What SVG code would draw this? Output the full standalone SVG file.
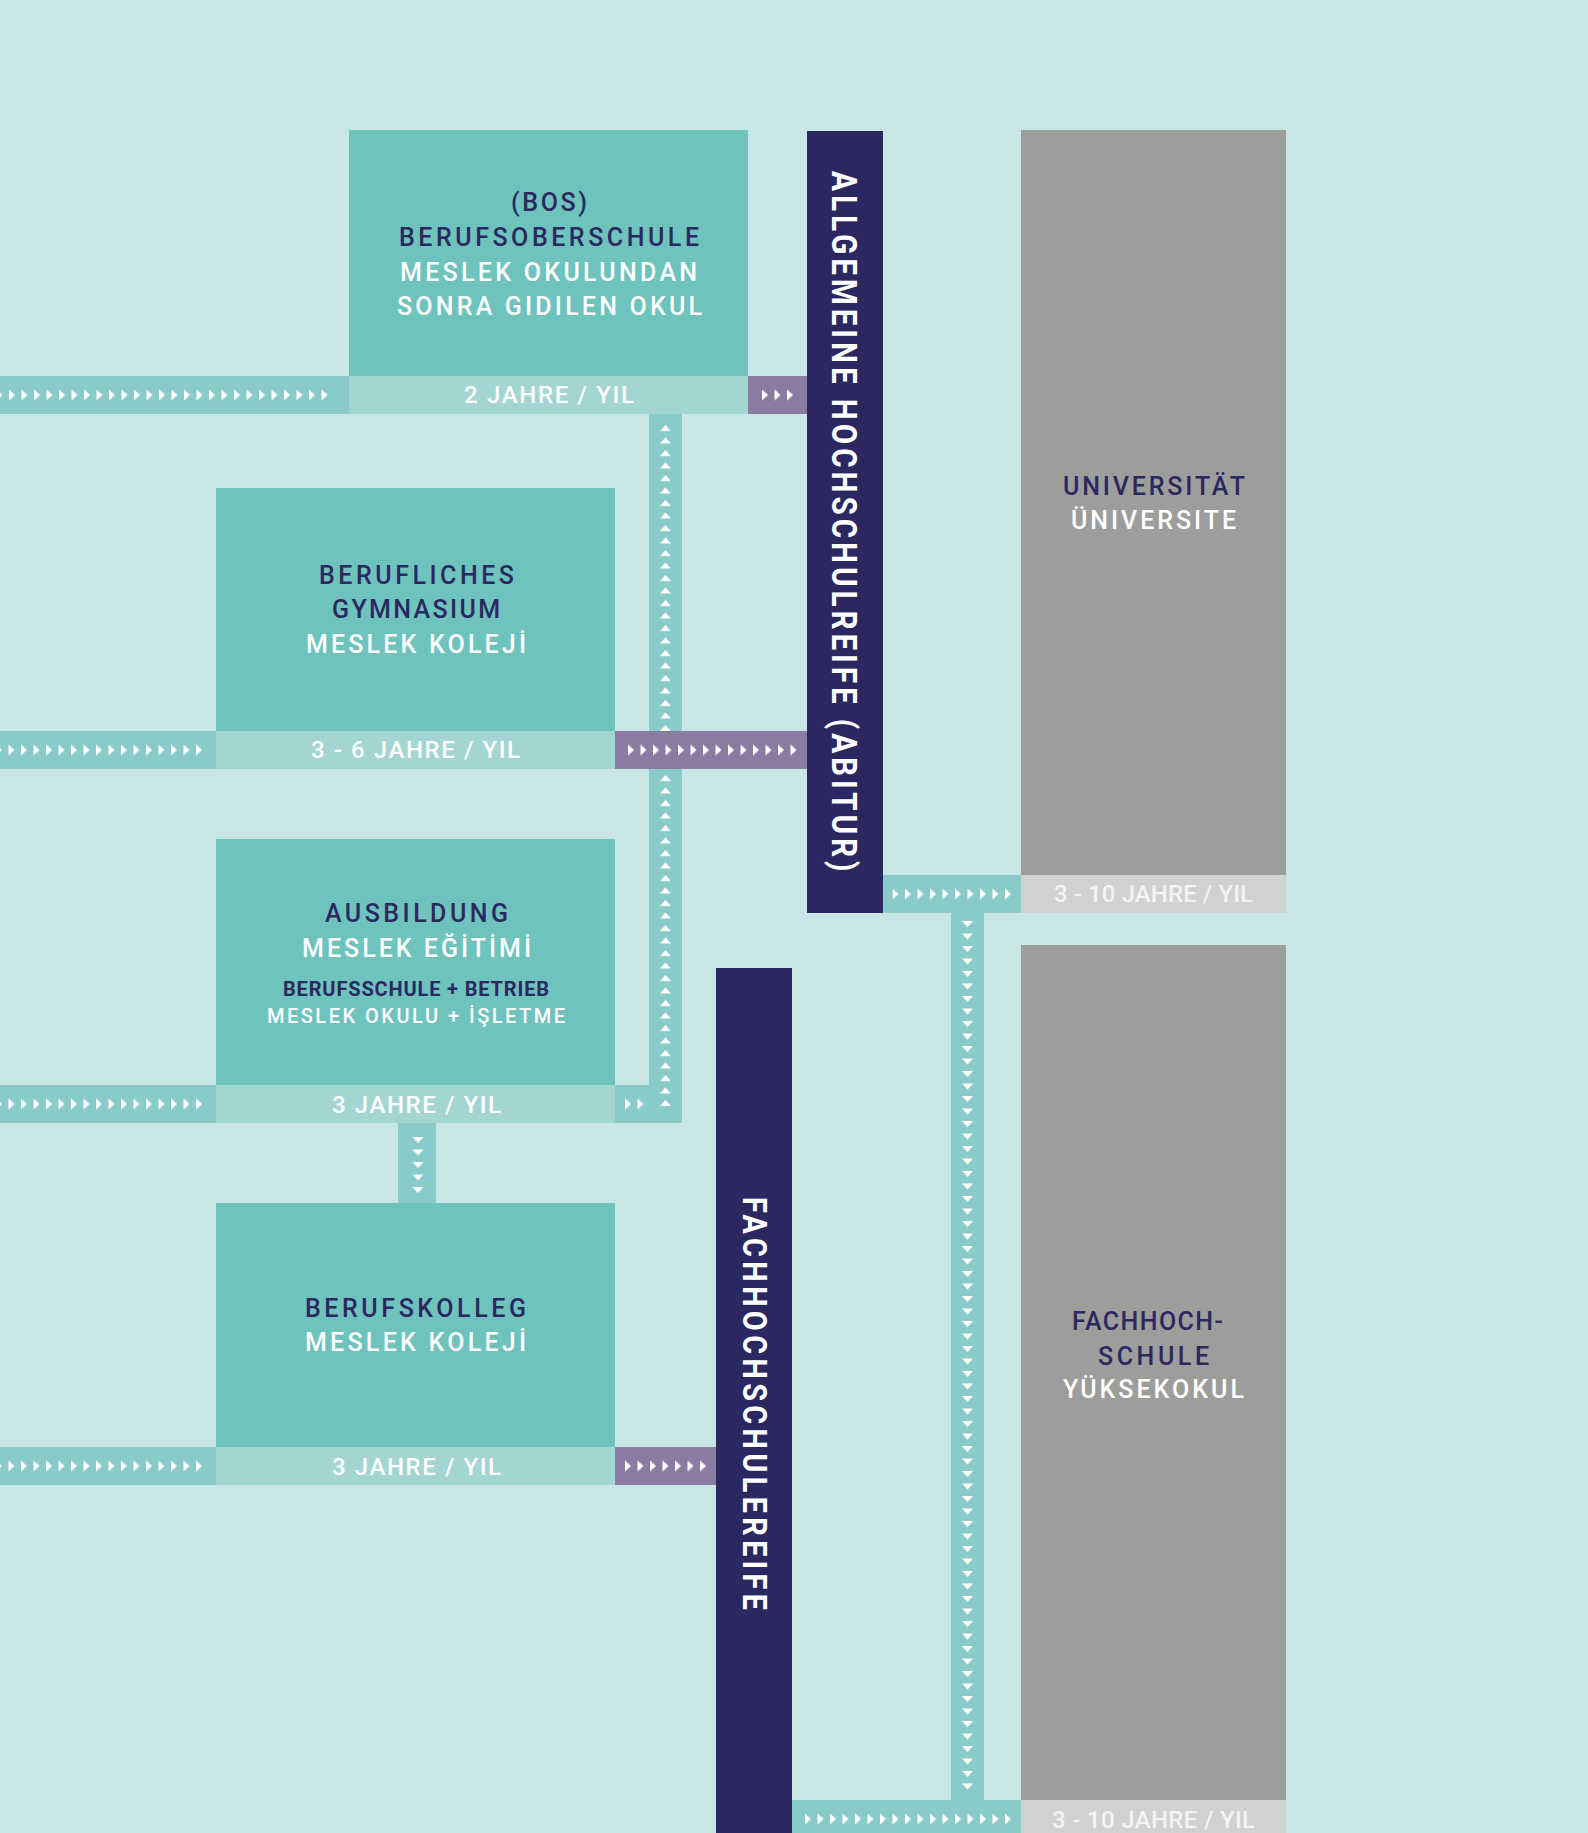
<svg xmlns="http://www.w3.org/2000/svg" width="1588" height="1833" viewBox="0 0 1588 1833">
<style>
.bg{fill:#c8e6e5}
.box{fill:#6ec3bd}
.lab{fill:#a3d6d2}
.con{fill:#89cbc9}
.pur{fill:#8a7ba1}
.bar{fill:#2b2861}
.gry{fill:#9d9d9b}
.lgy{fill:#d1d1d1}
.t{font-family:Roboto,"Liberation Sans",sans-serif;font-size:25px;font-weight:500}
.n{fill:#2b2861}
.w{fill:#ffffff}
.s{font-family:Roboto,"Liberation Sans",sans-serif;font-size:24px;font-weight:500;fill:#ffffff}
.g{fill:#f4f4f4}
.sm{font-size:20px}
.b{font-weight:700}
.v{font-family:Roboto,"Liberation Sans",sans-serif;font-weight:700;fill:#ffffff}
</style>
<defs>
<pattern id="arrR" patternUnits="userSpaceOnUse" width="12.5" height="11"><polygon points="0,0 6,5.5 0,11" fill="#ffffff"/></pattern>
<pattern id="arrU" patternUnits="userSpaceOnUse" width="11" height="12.5"><polygon points="0,6 11,6 5.5,0" fill="#ffffff"/></pattern>
<pattern id="arrD" patternUnits="userSpaceOnUse" width="11" height="12.5"><polygon points="0,0 11,0 5.5,6" fill="#ffffff"/></pattern>
</defs>
<rect class="bg" x="0" y="0" width="1588" height="1833"/>

<g id="connectors">
<rect class="con" x="0" y="376" width="349" height="38"/>
<rect class="con" x="649" y="414" width="33" height="709"/>
<rect class="con" x="0" y="731" width="216" height="38"/>
<rect class="con" x="0" y="1085" width="216" height="38"/>
<rect class="con" x="615" y="1085" width="67" height="38"/>
<rect class="con" x="398" y="1123" width="38" height="80"/>
<rect class="con" x="0" y="1447" width="216" height="38"/>
<rect class="con" x="883" y="875" width="138" height="38"/>
<rect class="con" x="951" y="913" width="33" height="887"/>
<rect class="con" x="792" y="1800" width="229" height="38"/>
<rect x="0" y="0" width="11" height="681.5" fill="url(#arrU)" transform="translate(660,425)"/>
<rect class="pur" x="748" y="376" width="59" height="38"/>
<rect class="pur" x="615" y="731" width="192" height="38"/>
<rect class="pur" x="615" y="1447" width="101" height="38"/>
<rect x="0" y="0" width="331.5" height="11" fill="url(#arrR)" transform="translate(-3.5,389.5)"/>
<rect x="0" y="0" width="206.5" height="11" fill="url(#arrR)" transform="translate(-4,744.5)"/>
<rect x="0" y="0" width="206.5" height="11" fill="url(#arrR)" transform="translate(-4,1098.5)"/>
<rect x="0" y="0" width="206.5" height="11" fill="url(#arrR)" transform="translate(-4,1460.5)"/>
<rect x="0" y="0" width="31.5" height="11" fill="url(#arrR)" transform="translate(762,389.5)"/>
<rect x="0" y="0" width="169" height="11" fill="url(#arrR)" transform="translate(628,744.5)"/>
<rect x="0" y="0" width="81.5" height="11" fill="url(#arrR)" transform="translate(625,1460.5)"/>
<rect x="0" y="0" width="19" height="11" fill="url(#arrR)" transform="translate(625,1098.5)"/>
<rect x="0" y="0" width="11" height="56.5" fill="url(#arrD)" transform="translate(412.5,1137)"/>
<rect x="0" y="0" width="119" height="11" fill="url(#arrR)" transform="translate(892.5,888.5)"/>
<rect x="0" y="0" width="11" height="869" fill="url(#arrD)" transform="translate(962,921)"/>
<rect x="0" y="0" width="206.5" height="11" fill="url(#arrR)" transform="translate(805,1813.5)"/>
</g>

<g id="bos">
<rect class="box" x="349" y="130" width="399" height="246"/>
<rect class="lab" x="349" y="376" width="399" height="38"/>
<text class="t n" x="511" y="211" textLength="76" lengthAdjust="spacing">(BOS)</text>
<text class="t n" x="399" y="246" textLength="300" lengthAdjust="spacing">BERUFSOBERSCHULE</text>
<text class="t w" x="400" y="281" textLength="297" lengthAdjust="spacing">MESLEK OKULUNDAN</text>
<text class="t w" x="397" y="315" textLength="305" lengthAdjust="spacing">SONRA GIDILEN OKUL</text>
<text class="s" x="464" y="403" textLength="170" lengthAdjust="spacing">2 JAHRE / YIL</text>
</g>

<g id="berufliches-gymnasium">
<rect class="box" x="216" y="488" width="399" height="243"/>
<rect class="lab" x="216" y="731" width="399" height="38"/>
<text class="t n" x="319" y="584" textLength="195" lengthAdjust="spacing">BERUFLICHES</text>
<text class="t n" x="332" y="618" textLength="168" lengthAdjust="spacing">GYMNASIUM</text>
<text class="t w" x="306" y="653" textLength="220" lengthAdjust="spacing">MESLEK KOLEJİ</text>
<text class="s" x="311" y="758" textLength="209" lengthAdjust="spacing">3 - 6 JAHRE / YIL</text>
</g>

<g id="ausbildung">
<rect class="box" x="216" y="839" width="399" height="246"/>
<rect class="lab" x="216" y="1085" width="399" height="38"/>
<text class="t n" x="325" y="922" textLength="183" lengthAdjust="spacing">AUSBILDUNG</text>
<text class="t w" x="302" y="957" textLength="229" lengthAdjust="spacing">MESLEK EĞİTİMİ</text>
<text class="t n sm b" x="283" y="996" textLength="266" lengthAdjust="spacing">BERUFSSCHULE + BETRIEB</text>
<text class="t w sm" x="267" y="1023" textLength="298" lengthAdjust="spacing">MESLEK OKULU + İŞLETME</text>
<text class="s" x="332" y="1113" textLength="169" lengthAdjust="spacing">3 JAHRE / YIL</text>
</g>

<g id="berufskolleg">
<rect class="box" x="216" y="1203" width="399" height="244"/>
<rect class="lab" x="216" y="1447" width="399" height="38"/>
<text class="t n" x="305" y="1317" textLength="221" lengthAdjust="spacing">BERUFSKOLLEG</text>
<text class="t w" x="305" y="1351" textLength="221" lengthAdjust="spacing">MESLEK KOLEJİ</text>
<text class="s" x="332" y="1475" textLength="169" lengthAdjust="spacing">3 JAHRE / YIL</text>
</g>

<g id="abitur">
<rect class="bar" x="807" y="131" width="76" height="782"/>
<text class="v" font-size="35" transform="translate(832,171) rotate(90) scale(0.85,1)" textLength="824" lengthAdjust="spacing">ALLGEMEINE HOCHSCHULREIFE (ABITUR)</text>
</g>

<g id="fachhochschulreife">
<rect class="bar" x="716" y="968" width="76" height="865"/>
<text class="v" font-size="34" transform="translate(743,1197) rotate(90) scale(0.85,1)" textLength="486" lengthAdjust="spacing">FACHHOCHSCHULEREIFE</text>
</g>

<g id="universitaet">
<rect class="gry" x="1021" y="130" width="265" height="745"/>
<rect class="lgy" x="1021" y="875" width="265" height="38"/>
<text class="t n" x="1063" y="495" textLength="182" lengthAdjust="spacing">UNIVERSITÄT</text>
<text class="t w" x="1071" y="529" textLength="165" lengthAdjust="spacing">ÜNIVERSITE</text>
<text class="s g" x="1054" y="902" textLength="199" lengthAdjust="spacing">3 - 10 JAHRE / YIL</text>
</g>

<g id="fachhochschule">
<rect class="gry" x="1021" y="945" width="265" height="855"/>
<rect class="lgy" x="1021" y="1800" width="265" height="38"/>
<text class="t n" x="1072" y="1330" textLength="151" lengthAdjust="spacing">FACHHOCH-</text>
<text class="t n" x="1098" y="1365" textLength="111" lengthAdjust="spacing">SCHULE</text>
<text class="t w" x="1063" y="1398" textLength="181" lengthAdjust="spacing">YÜKSEKOKUL</text>
<text class="s g" x="1052" y="1828" textLength="203" lengthAdjust="spacing">3 - 10 JAHRE / YIL</text>
</g>
</svg>
